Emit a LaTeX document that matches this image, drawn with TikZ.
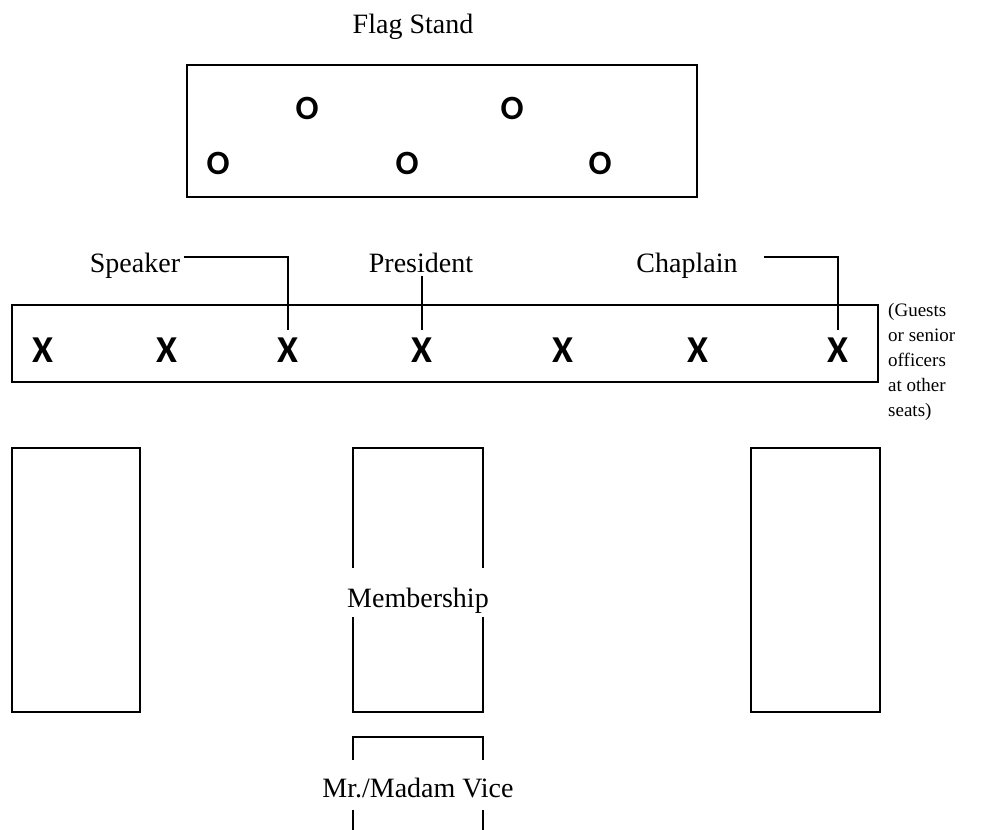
\documentclass[tikz,border=0pt]{standalone}
\usepackage{fontspec}
\setmainfont{Liberation Serif}
\newfontfamily\seatfont{Carlito}
\usetikzlibrary{positioning, calc}
\tikzset{
  tablebox/.style={
    rectangle,
    draw=black, line width=1.2pt,
    inner sep=0pt,
    minimum width=130pt,
    minimum height=264pt
  },
  seat/.style={
    inner sep=7pt,
    font=\fontsize{38}{40}\seatfont\bfseries
  },
  flag/.style={
    inner sep=2pt,
    font=\fontsize{34}{36}\seatfont\bfseries
  },
  role/.style={
    font=\fontsize{28}{30}\selectfont
  },
  leader/.style={
    draw=black,
    line width=1.2pt
  }
}

\begin{document}
\begin{tikzpicture}[x=1pt, y=-1pt]
\path[use as bounding box, clip] (0,0) rectangle (988,830);

% flag stand
\node[role, anchor=base] (lblflag) at (413,33) {Flag Stand};
\node[tablebox, minimum width=510pt, minimum height=132pt] (flagstand) at (442,131) {};
\node[flag] (flag1) at (218,163) {O};
\node[flag] (flag2) at (307,108) {O};
\node[flag] (flag3) at (407,163) {O};
\node[flag] (flag4) at (512,108) {O};
\node[flag] (flag5) at (600,163) {O};

% head table
\node[tablebox, minimum width=866pt, minimum height=77pt] (headtable) at (445,343.5) {};
\foreach \x [count=\i] in {43,167,288,422,563,698,838}
  \node[seat] (seat\i) at (\x,350) {X};

\node[role, anchor=base] (lblS) at (135,272) {Speaker};
\node[role, anchor=base] (lblP) at (421,272) {President};
\node[role, anchor=base] (lblC) at (687,272) {Chaplain};

\node[anchor=north west, inner sep=0pt, align=left,
      font=\fontsize{19}{25}\selectfont] (note) at (888,303)
  {(Guests\\or senior\\officers\\at other\\seats)};

% leaders
\draw[leader] ([yshift=15pt]lblS.base east) -| (seat3.north);
\draw[leader] (seat4.north |- lblP.south) -- (seat4.north);
\draw[leader] ([shift={(23pt,15pt)}]lblC.base east) -| (seat7.north);

% member tables
\node[tablebox, minimum width=128pt] (tableL) at (76,580) {};
\node[tablebox] (tableM) at (418,580) {};
\node[tablebox, minimum width=129pt] (tableR) at (815.5,580) {};
\node[tablebox] (tableV) at (418,869) {};

\node[role, anchor=base, fill=white, inner xsep=2pt, inner ysep=0pt,
      text height=39pt, text depth=10pt] (lblM) at (418,607) {Membership};
\node[role, anchor=base, fill=white, inner xsep=2pt, inner ysep=0pt,
      text height=37pt, text depth=13pt] (lblV) at (418,797) {Mr./Madam Vice};

\end{tikzpicture}
\end{document}
